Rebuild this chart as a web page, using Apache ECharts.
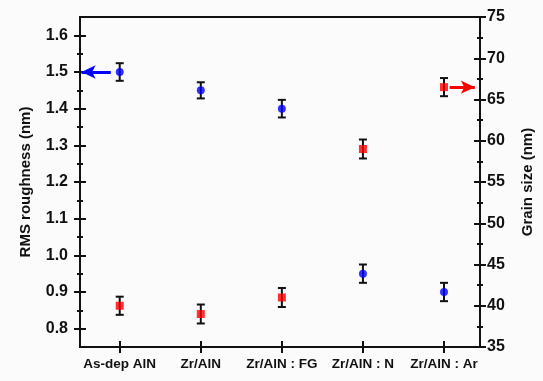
<!DOCTYPE html>
<html>
<head>
<meta charset="utf-8">
<script src="https://cdn.jsdelivr.net/npm/echarts@6/dist/echarts.min.js"></script>
<style>
  html, body { margin: 0; padding: 0; background: #fbfbfb; }
  #chart { width: 543px; height: 381px; }
</style>
</head>
<body>
<div id="chart"></div>
<script>
// Samples along the x axis
const categories = ['As-dep AlN', 'Zr/AlN', 'Zr/AlN : FG', 'Zr/AlN : N', 'Zr/AlN : Ar'];

// RMS roughness (nm), left axis
const roughness = [1.50, 1.45, 1.40, 0.95, 0.90];
const roughnessErr = [0.024, 0.022, 0.024, 0.025, 0.025];

// Grain size (nm), right axis
const grainSize = [40.0, 39.0, 41.0, 59.0, 66.5];
const grainErr = [1.1, 1.15, 1.15, 1.15, 1.1];

// Tick values
const leftMajor = [0.8, 0.9, 1.0, 1.1, 1.2, 1.3, 1.4, 1.5, 1.6];
const leftMinor = [0.85, 0.95, 1.05, 1.15, 1.25, 1.35, 1.45, 1.55];
const rightMajor = [35, 40, 45, 50, 55, 60, 65, 70, 75];
const rightMinor = [37.5, 42.5, 47.5, 52.5, 57.5, 62.5, 67.5, 72.5];
const xTicks = [0, 1, 2, 3, 4];

const FONT = 'Liberation Sans, Arial, sans-serif';
const INK = '#111';

// An extra axis on the same edge that only draws tick marks
function tickAxis(base, values, len, inside) {
  return Object.assign({}, base, {
    offset: 0,
    axisLine: { show: true, onZero: false, lineStyle: { color: INK, width: 2 } },
    splitLine: { show: false },
    axisTick: { show: true, inside: inside, length: len, customValues: values,
                lineStyle: { color: INK, width: 2 } },
    axisLabel: { show: false }
  });
}

const leftBase = { type: 'value', position: 'left', min: 0.75, max: 1.65 };
const rightBase = { type: 'value', position: 'right', min: 35, max: 75 };
const xBase = { type: 'value', position: 'bottom', min: -0.49, max: 4.444 };

const yAxes = [
  Object.assign({}, leftBase, {
    offset: 0,
    name: 'RMS roughness (nm)', nameLocation: 'middle', nameRotate: 90, nameGap: 47,
    nameTextStyle: { fontFamily: FONT, fontWeight: 'bold', fontSize: 15, color: INK },
    axisLine: { show: true, onZero: false, lineStyle: { color: INK, width: 2 } },
    splitLine: { show: false },
    axisTick: { show: true, length: 6, customValues: leftMajor, lineStyle: { color: INK, width: 2 } },
    axisLabel: { show: true, customValues: leftMajor, margin: 12,
                 formatter: v => v.toFixed(1),
                 fontFamily: FONT, fontWeight: 'bold', fontSize: 16, color: INK }
  }),
  tickAxis(leftBase, leftMajor, 6, true),
  tickAxis(leftBase, leftMinor, 3, false),
  tickAxis(leftBase, leftMinor, 3, true),
  Object.assign({}, rightBase, {
    offset: 0,
    name: 'Grain size (nm)', nameLocation: 'middle', nameRotate: 90, nameGap: 40,
    nameTextStyle: { fontFamily: FONT, fontWeight: 'bold', fontSize: 15, color: INK },
    axisLine: { show: true, onZero: false, lineStyle: { color: INK, width: 2 } },
    splitLine: { show: false },
    axisTick: { show: true, length: 6, customValues: rightMajor, lineStyle: { color: INK, width: 2 } },
    axisLabel: { show: true, customValues: rightMajor, margin: 7,
                 fontFamily: FONT, fontWeight: 'bold', fontSize: 16, color: INK }
  }),
  tickAxis(rightBase, rightMajor, 6, true),
  tickAxis(rightBase, rightMinor, 3, false),
  tickAxis(rightBase, rightMinor, 3, true)
];

const xAxes = [
  Object.assign({}, xBase, {
    offset: 0,
    axisLine: { show: true, onZero: false, lineStyle: { color: INK, width: 2 } },
    splitLine: { show: false },
    axisTick: { show: true, length: 6, customValues: xTicks, lineStyle: { color: INK, width: 2 } },
    axisLabel: { show: true, customValues: xTicks, margin: 10,
                 formatter: v => categories[Math.round(v)],
                 fontFamily: FONT, fontWeight: 'bold', fontSize: 13.5, color: INK }
  }),
  tickAxis(xBase, xTicks, 6, true)
];

// Vertical error bar with caps, placed through the axis scales
function errorBars(params, api) {
  const i = api.value(0);
  const top = api.coord([i, api.value(1) + api.value(2)]);
  const bot = api.coord([i, api.value(1) - api.value(2)]);
  const half = 4;
  const style = { stroke: INK, lineWidth: 2 };
  return {
    type: 'group',
    children: [
      { type: 'line', shape: { x1: top[0], y1: top[1], x2: bot[0], y2: bot[1] }, style },
      { type: 'line', shape: { x1: top[0] - half, y1: top[1], x2: top[0] + half, y2: top[1] }, style },
      { type: 'line', shape: { x1: bot[0] - half, y1: bot[1], x2: bot[0] + half, y2: bot[1] }, style }
    ]
  };
}

const chart = echarts.init(document.getElementById('chart'));
chart.setOption({
  backgroundColor: '#fbfbfb',
  animation: false,
  grid: { left: 80, right: 60, top: 17, bottom: 34, show: true,
          borderColor: INK, borderWidth: 2, backgroundColor: 'transparent' },
  xAxis: xAxes,
  yAxis: yAxes,
  series: [
    {
      type: 'custom', xAxisIndex: 0, yAxisIndex: 0, z: 2,
      renderItem: errorBars,
      data: roughness.map((v, i) => [i, v, roughnessErr[i]])
    },
    {
      type: 'custom', xAxisIndex: 0, yAxisIndex: 4, z: 2,
      renderItem: errorBars,
      data: grainSize.map((v, i) => [i, v, grainErr[i]])
    },
    {
      name: 'RMS roughness', type: 'scatter', xAxisIndex: 0, yAxisIndex: 0, z: 3,
      symbol: 'circle', symbolSize: 8,
      itemStyle: { color: '#0000ff' },
      data: roughness.map((v, i) => [i, v]),
      markLine: {
        silent: true, symbol: ['none', 'arrow'], symbolSize: [10, 14],
        label: { show: false },
        lineStyle: { color: '#0000ff', width: 3, type: 'solid' },
        data: [[{ coord: [-0.11, roughness[0]] }, { coord: [-0.47, roughness[0]] }]]
      }
    },
    {
      name: 'Grain size', type: 'scatter', xAxisIndex: 0, yAxisIndex: 4, z: 3,
      symbol: 'rect', symbolSize: 8,
      itemStyle: { color: '#ff0000' },
      data: grainSize.map((v, i) => [i, v]),
      markLine: {
        silent: true, symbol: ['none', 'arrow'], symbolSize: [10, 14],
        label: { show: false },
        lineStyle: { color: '#ff0000', width: 3, type: 'solid' },
        data: [[{ coord: [4.07, grainSize[4]] }, { coord: [4.38, grainSize[4]] }]]
      }
    }
  ]
});
</script>
</body>
</html>
